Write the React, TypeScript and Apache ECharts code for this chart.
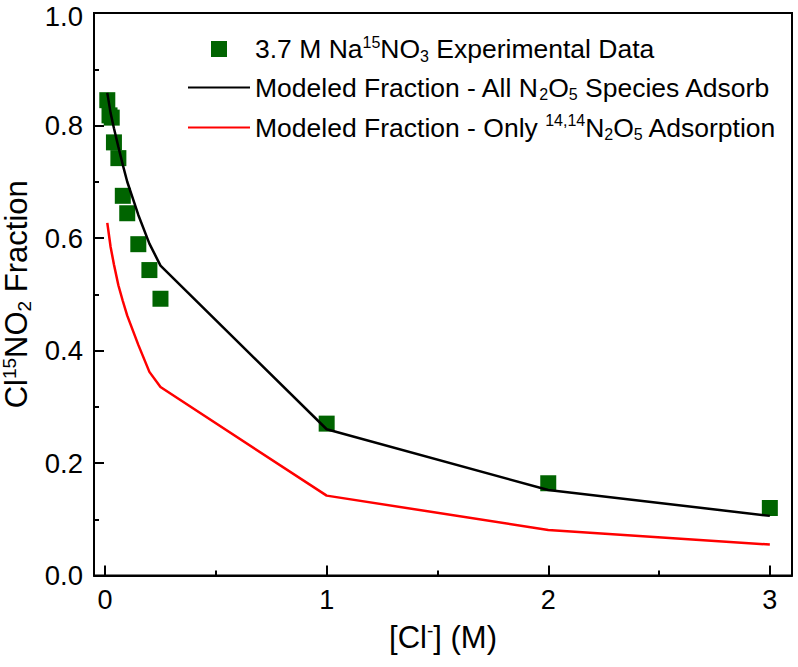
import React, { useEffect, useRef } from "react";
import * as echarts from "echarts";

// Chloride concentration (M) of the experimental points
const clConc = [0.01, 0.02, 0.03, 0.04, 0.06, 0.08, 0.1, 0.15, 0.2, 0.25, 1, 2, 3];
// Measured Cl15NO2 fraction
const expFraction = [0.845, 0.818, 0.814, 0.77, 0.742, 0.675, 0.644, 0.589, 0.543, 0.492, 0.27, 0.164, 0.12];

// Model grid (M)
const modelConc = [0.01, 0.025, 0.04, 0.06, 0.08, 0.1, 0.15, 0.2, 0.25, 1, 2, 3];
// Modeled fraction, all N2O5 isotopologues adsorb
const modelAll = [0.858, 0.822, 0.795, 0.762, 0.73, 0.7, 0.641, 0.59, 0.551, 0.26, 0.152, 0.106];
// Modeled fraction, only 14,14N2O5 adsorbs
const modelOnly1414 = [0.627, 0.584, 0.553, 0.516, 0.488, 0.462, 0.41, 0.362, 0.335, 0.142, 0.081, 0.055];

const xMajorTicks = [0, 1, 2, 3];
const xMinorTicks = [0.5, 1.5, 2.5];

const NAME_EXP = "3.7 M Na15NO3 Experimental Data";
const NAME_ALL = "Modeled Fraction - All N2O5 Species Adsorb";
const NAME_ONLY = "Modeled Fraction - Only 14,14N2O5 Adsorption";

const FONT = "'Liberation Sans', Arial, Helvetica, sans-serif";

const legendRich = {
  t: { fontSize: 26.5, fontFamily: FONT, color: "#000", lineHeight: 30, verticalAlign: "middle" },
  sup: { fontSize: 16, fontFamily: FONT, color: "#000", lineHeight: 16, verticalAlign: "top" },
  sub: { fontSize: 16, fontFamily: FONT, color: "#000", lineHeight: 16, verticalAlign: "bottom" },
};

const legendLabels: Record<string, string> = {
  [NAME_EXP]: "{t|3.7 M Na}{sup|15}{t|NO}{sub|3}{t| Experimental Data}",
  [NAME_ALL]: "{t|Modeled Fraction - All N}{sub|2}{t|O}{sub|5}{t| Species Adsorb}",
  [NAME_ONLY]: "{t|Modeled Fraction - Only }{sup|14,14}{t|N}{sub|2}{t|O}{sub|5}{t| Adsorption}",
};

const toPairs = (xs: number[], ys: number[]) => xs.map((x, i) => [x, ys[i]]);

export default function App() {
  const ref = useRef<HTMLDivElement>(null);

  useEffect(() => {
    if (!ref.current) return;
    const chart = echarts.init(ref.current, undefined, { renderer: "svg" });

    const nameRich = {
      t: { fontSize: 31, fontFamily: FONT, color: "#000", lineHeight: 34 },
      sup: { fontSize: 19, fontFamily: FONT, color: "#000", lineHeight: 19, verticalAlign: "top" },
      sub: { fontSize: 19, fontFamily: FONT, color: "#000", lineHeight: 19, verticalAlign: "bottom" },
    };

    const yTickRich = {
      v: { fontSize: 27.5, fontFamily: FONT, color: "#000", lineHeight: 22 },
      // the topmost label sits against the page edge, nudge it down slightly
      top: { fontSize: 27.5, fontFamily: FONT, color: "#000", lineHeight: 22, padding: [6, 0, 0, 0] },
    };

    chart.setOption({
      animation: false,
      backgroundColor: "#fff",
      grid: {
        left: 94,
        top: 13,
        right: 6,
        bottom: 91.5,
        containLabel: false,
        outerBoundsMode: "none",
        show: true,
        borderColor: "#000",
        borderWidth: 2,
        backgroundColor: "transparent",
      },
      legend: {
        orient: "vertical",
        left: 188,
        top: 34,
        padding: 0,
        itemWidth: 62,
        itemHeight: 16,
        itemGap: 10,
        selectedMode: false,
        formatter: (name: string) => legendLabels[name] ?? name,
        textStyle: { rich: legendRich },
        data: [
          { name: NAME_EXP, icon: "path://M0 0H10V10H0Z" },
          { name: NAME_ALL, icon: "path://M0 0H62V2H0Z" },
          { name: NAME_ONLY, icon: "path://M0 0H62V2H0Z" },
        ],
      },
      xAxis: [
        {
          type: "value",
          min: -0.05,
          max: 3.1,
          name: "{t|[Cl}{sup|-}{t|] (M)}",
          nameLocation: "middle",
          nameGap: 45,
          nameTextStyle: { rich: nameRich },
          axisLine: { show: true, onZero: false, lineStyle: { color: "#000", width: 2 } },
          axisTick: { show: true, inside: true, length: 10, customValues: xMajorTicks, lineStyle: { color: "#000", width: 2 } },
          axisLabel: { show: true, customValues: xMajorTicks, fontSize: 27, fontFamily: FONT, color: "#000", margin: 11 },
          splitLine: { show: false },
        },
        {
          type: "value",
          min: -0.05,
          max: 3.1,
          position: "bottom",
          axisLine: { show: false },
          axisTick: { show: true, inside: true, length: 5, customValues: xMinorTicks, lineStyle: { color: "#000", width: 2 } },
          axisLabel: { show: false },
          splitLine: { show: false },
        },
      ],
      yAxis: {
        type: "value",
        min: 0,
        max: 1,
        interval: 0.2,
        name: "{t|Cl}{sup|15}{t|NO}{sub|2}{t| Fraction}",
        nameLocation: "middle",
        nameGap: 43,
        nameTextStyle: { rich: nameRich },
        axisLine: { show: true, onZero: false, lineStyle: { color: "#000", width: 2 } },
        axisTick: { show: true, inside: true, length: 10, lineStyle: { color: "#000", width: 2 } },
        minorTick: { show: true, splitNumber: 2, length: 5, lineStyle: { color: "#000", width: 2 } },
        axisLabel: {
          fontSize: 27.5,
          lineHeight: 22,
          fontFamily: FONT,
          color: "#000",
          margin: 11,
          rich: yTickRich,
          formatter: (v: number) => (v >= 1 ? `{top|${v.toFixed(1)}}` : `{v|${v.toFixed(1)}}`),
        },
        splitLine: { show: false },
        minorSplitLine: { show: false },
      },
      series: [
        {
          name: NAME_EXP,
          type: "scatter",
          symbol: "rect",
          symbolSize: 16,
          itemStyle: { color: "#006400", opacity: 1 },
          data: toPairs(clConc, expFraction),
          z: 2,
        },
        {
          name: NAME_ALL,
          type: "line",
          showSymbol: false,
          symbol: "none",
          lineStyle: { color: "#000", width: 2.5 },
          itemStyle: { color: "#000" },
          data: toPairs(modelConc, modelAll),
          z: 3,
        },
        {
          name: NAME_ONLY,
          type: "line",
          showSymbol: false,
          symbol: "none",
          lineStyle: { color: "#ff0000", width: 2.5 },
          itemStyle: { color: "#ff0000" },
          data: toPairs(modelConc, modelOnly1414),
          z: 3,
        },
      ],
    });

    return () => chart.dispose();
  }, []);

  return (
    <div
      ref={ref}
      style={{ position: "absolute", left: 0, top: 0, width: 798, height: 667 }}
    />
  );
}
